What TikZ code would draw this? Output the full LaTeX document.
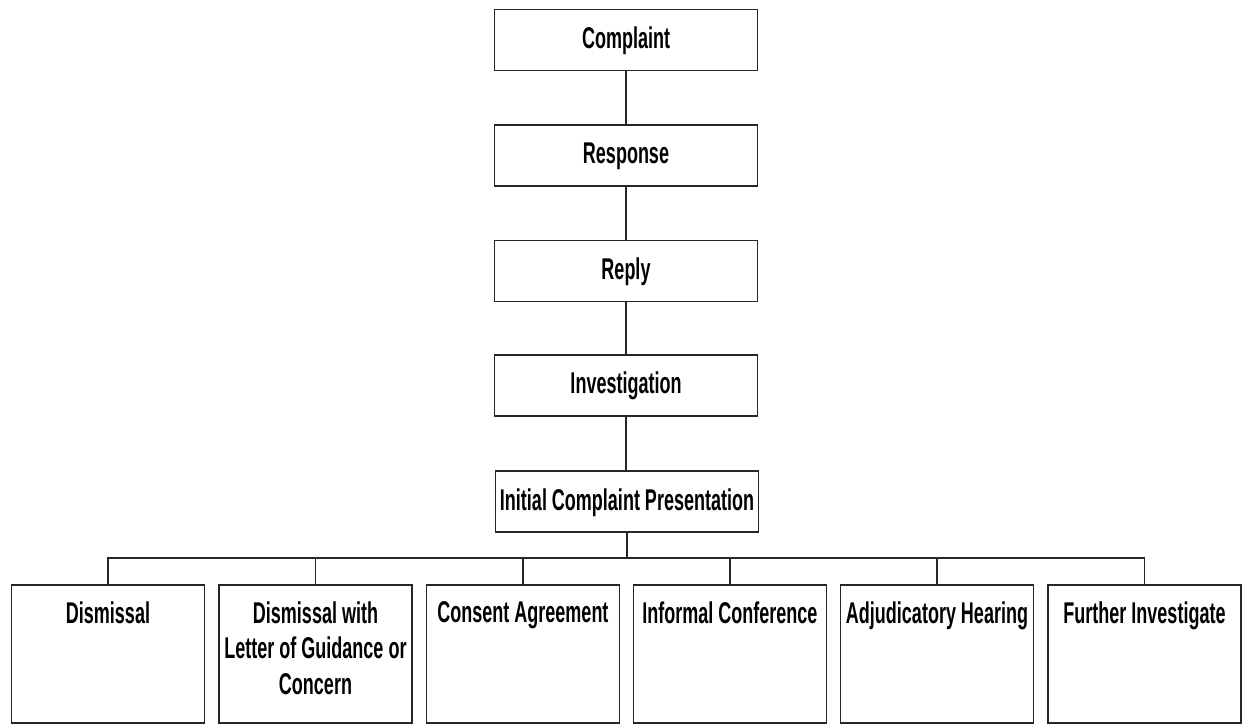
\documentclass[tikz,border=0pt]{standalone}
\usepackage{fontspec}
\setmainfont{Liberation Sans}[FakeStretch=0.6]
\usetikzlibrary{calc}
\begin{document}
\begin{tikzpicture}[x=1pt,y=-1pt,
  font=\fontsize{30}{35.5}\selectfont\bfseries,
  conn/.style={draw=black!85,line width=1.3pt},
  stagebox/.style={draw=black!85,line width=1.3pt,minimum width=263pt,minimum height=61pt,inner sep=0pt,text height=22pt,text depth=5pt},
  outbox/.style={draw=black!85,line width=1.3pt,minimum width=193pt,minimum height=138pt,inner sep=0pt},
  outtext/.style={anchor=north,inner sep=0pt,align=center}]
\useasboundingbox (0,0) rectangle (1243,727);
\node[stagebox] (complaint) at (626,40) {Complaint};
\node[stagebox] (response) at (626,155.5) {Response};
\node[stagebox] (reply) at (626,271) {Reply};
\node[stagebox] (invest) at (626,385.5) {Investigation};
\node[stagebox] (icp) at (627,501.5) {Initial Complaint Presentation};
\draw[conn] (complaint) -- (response);
\draw[conn] (response) -- (reply);
\draw[conn] (reply) -- (invest);
\draw[conn] (invest.south) -- (invest.south |- icp.north);
\coordinate (bus) at (627,558);
\node[outbox] (c1) at (108,654) {};
\node[outbox] (c2) at (315.5,654) {};
\node[outbox] (c3) at (523,654) {};
\node[outbox] (c4) at (730,654) {};
\node[outbox] (c5) at (937,654) {};
\node[outbox] (c6) at (1144.5,654) {};
\node[outtext] (t1) at ($(c1.north)+(0,17)$) {Dismissal};
\node[outtext] (t2) at ($(c2.north)+(0,17)$) {Dismissal with\\Letter of Guidance or\\Concern};
\node[outtext] (t3) at ($(c3.north)+(0,17)$) {Consent Agreement};
\node[outtext] (t4) at ($(c4.north)+(0,17)$) {Informal Conference};
\node[outtext] (t5) at ($(c5.north)+(0,17)$) {Adjudicatory Hearing};
\node[outtext] (t6) at ($(c6.north)+(0,17)$) {Further Investigate};
\draw[conn] (icp.south) -- (bus);
\draw[conn] (c1.north) |- (bus) -| (c6.north);
\draw[conn] (c2.north) -- (c2.north |- bus);
\draw[conn] (c3.north) -- (c3.north |- bus);
\draw[conn] (c4.north) -- (c4.north |- bus);
\draw[conn] (c5.north) -- (c5.north |- bus);
\end{tikzpicture}
\end{document}
